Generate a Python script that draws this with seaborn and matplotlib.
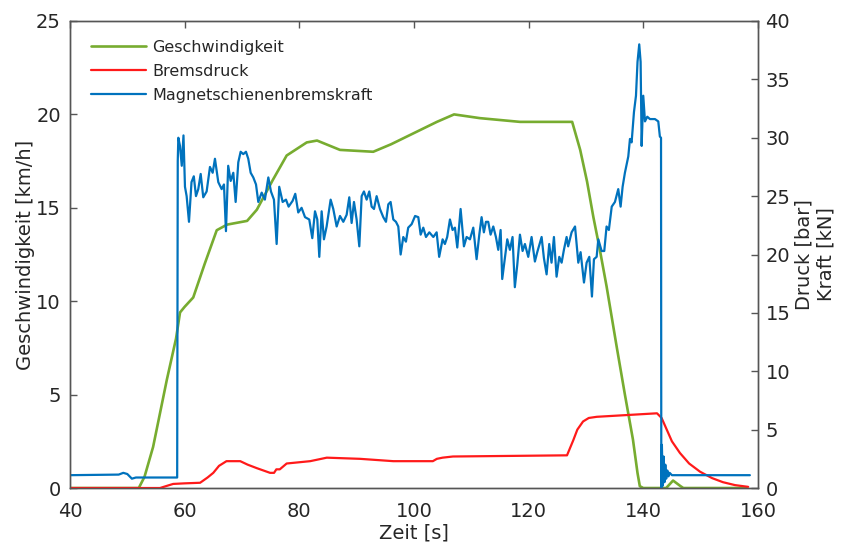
import matplotlib
matplotlib.use('Agg')
import matplotlib.pyplot as plt
import pandas as pd
import seaborn as sns

# Geschwindigkeit [km/h] (left axis)
speed_t = [40, 52, 53, 54.5, 56.9, 58.5, 59.2, 60, 61.5, 63.5, 65.6, 67.4, 70.9, 72.6,
           75.4, 77.8, 81.3, 83.1, 87.1, 92.9, 96, 100, 104, 107, 111.5, 118.5, 125.5,
           127.6, 129, 130.2, 131.3, 132.4, 133.6, 135.4, 136.8, 138.2, 139, 139.4, 140,
           144, 145.2, 146.5, 147, 158]
speed_v = [0, 0, 0.6, 2.2, 5.8, 8.0, 9.4, 9.7, 10.2, 12.0, 13.8, 14.1, 14.3, 14.9,
           16.5, 17.8, 18.5, 18.6, 18.1, 18.0, 18.4, 19.0, 19.6, 20.0, 19.8, 19.6, 19.6,
           19.6, 18.1, 16.4, 14.5, 12.8, 10.8, 7.5, 5.0, 2.6, 0.8, 0.1, 0,
           0, 0.4, 0.1, 0, 0]

# Bremsdruck [bar] (right axis)
brake_t = [40, 55.7, 57, 58, 60, 62.7, 64, 65, 66, 67.3, 69.7, 71, 72.6, 74.9, 75.6,
           76, 76.6, 77.8, 81.9, 84.8, 90.6, 96.4, 103.3, 104, 105, 106.8, 126.7, 127.8,
           128.5, 129.5, 130.5, 131.9, 142.4, 143.2, 144.1, 145, 146.4, 148, 149.9, 152,
           153.9, 156, 158.3]
brake_v = [0, 0, 0.2, 0.35, 0.4, 0.45, 0.9, 1.3, 1.9, 2.3, 2.3, 2.0, 1.7, 1.3, 1.3,
           1.6, 1.6, 2.1, 2.3, 2.6, 2.5, 2.3, 2.3, 2.5, 2.6, 2.7, 2.8, 4.1,
           5.0, 5.7, 6.0, 6.1, 6.4, 6.0, 5.0, 4.0, 3.0, 2.1, 1.4, 0.85,
           0.5, 0.25, 0.1]

# Magnetschienenbremskraft [kN] (right axis)
force_t = [40, 48.5, 49.3, 50, 50.8, 51.5, 58.7, 58.8, 58.9, 59.19, 59.5, 59.8, 60.06,
           60.35, 60.76, 61.2, 61.6, 61.98, 62.38, 62.8, 63.25, 63.84, 64.42, 64.89,
           65.29, 65.87, 66.46, 66.86, 67.21, 67.6, 68.03, 68.49, 68.9, 69.36, 69.77,
           70.23, 70.7, 71.1, 71.52, 71.98, 72.45, 72.85, 73.44, 74.0, 74.6, 75.06,
           75.58, 76.05, 76.5, 77.1, 77.68, 78.14, 78.84, 79.3, 79.82, 80.4, 81.0,
           81.74, 82.27, 82.74, 83.14, 83.49, 83.9, 84.3, 84.77, 85.47, 85.93, 86.52,
           87.1, 87.68, 88.26, 88.72, 89.13, 89.54, 90.0, 90.47, 90.88, 91.28, 91.75,
           92.21, 92.62, 93.03, 93.49, 94.07, 94.65, 95.12, 95.53, 95.93, 96.4, 96.86,
           97.27, 97.68, 98.14, 98.6, 99.0, 99.6, 100.2, 100.76, 101.17, 101.63, 102.1,
           102.68, 103.38, 103.96, 104.4, 105.0, 105.4, 105.8, 106.28, 106.74, 107.15,
           107.56, 108.14, 108.72, 109.19, 109.77, 110.35, 110.93, 111.4, 111.8, 112.2,
           112.56, 112.96, 113.37, 113.84, 114.3, 114.71, 115.12, 115.4, 115.87, 116.28,
           116.74, 117.2, 117.6, 118.02, 118.49, 118.95, 119.36, 119.94, 120.52, 121.1,
           121.51, 122.27, 122.67, 123.14, 123.6, 124.0, 124.42, 124.88, 125.35, 125.76,
           126.16, 126.63, 126.9, 127.5, 128.1, 128.67, 129.07, 129.66, 130.12, 130.59,
           131.05, 131.4, 131.87, 132.16, 132.74, 133.2, 133.6, 134.0, 134.5, 135.06,
           135.64, 136.05, 136.4, 136.8, 137.39, 137.68, 137.97, 138.38, 138.73, 139.0,
           139.3, 139.54, 139.72, 140.0, 140.3, 140.7, 141.17, 142.04, 142.62, 142.9,
           143.1, 143.15, 143.25, 143.4, 143.55, 143.7, 143.85, 144.0, 144.2, 144.4,
           144.6, 145, 158.6]
force_v = [1.1, 1.15, 1.3, 1.2, 0.8, 0.9, 0.9, 28.0, 30.0, 29.3, 27.6, 30.2, 25.8,
           25.0, 22.8, 26.2, 26.7, 25.0, 25.6, 26.9, 24.9, 25.4, 27.5, 27.0,
           28.2, 26.2, 25.6, 26.0, 22.0, 27.6, 26.3, 27.0, 24.5, 27.9, 28.8,
           28.6, 28.8, 28.2, 27.0, 26.6, 26.0, 24.5, 25.3, 24.7, 26.6, 25.4,
           24.7, 20.9, 25.8, 24.5, 24.7, 24.1, 24.6, 25.2, 23.6, 24.0, 23.2,
           23.0, 21.4, 23.7, 23.0, 19.8, 23.7, 21.3, 22.4, 24.7, 23.9, 22.4,
           23.3, 22.8, 23.4, 24.9, 22.7, 24.5, 23.0, 20.7, 25.0, 25.4, 24.7,
           25.4, 24.1, 23.9, 25.0, 23.9, 23.2, 22.8, 24.3, 24.5, 23.0, 22.8,
           22.4, 20.0, 21.5, 21.1, 22.3, 22.6, 23.3, 23.2, 21.7, 22.3, 21.5,
           21.9, 21.5, 21.9, 19.8, 21.3, 20.9, 21.5, 23.0, 22.1, 22.3,
           20.6, 23.9, 20.7, 21.5, 21.3, 22.3, 19.6, 21.7, 23.2, 21.9,
           22.8, 22.8, 21.7, 22.4, 21.5, 20.4, 22.1, 17.9, 19.7, 21.3,
           20.4, 21.5, 17.2, 19.1, 21.7, 20.3, 20.9, 19.8, 21.5, 19.4,
           20.2, 21.5, 19.7, 18.3, 20.9, 19.3, 21.5, 18.1, 19.8, 19.3,
           20.4, 21.5, 20.7, 21.9, 22.4, 19.3, 20.2, 17.6, 19.3, 19.8,
           16.4, 19.6, 19.8, 21.3, 20.3, 20.3, 22.4, 22.1, 24.1, 24.5,
           25.6, 24.1, 25.8, 27.0, 28.4, 29.9, 29.6, 32.2, 33.6, 36.5,
           38.0, 36.5, 29.3, 33.6, 31.4, 31.8, 31.6, 31.6, 31.4, 30.1,
           30.0, 0, 3.7, 0.2, 2.7, 0.5, 2.0, 0.8, 1.5, 1.0,
           1.3, 1.1, 1.1]

x_ticks = [40, 60, 80, 100, 120, 140, 160]
left_ticks = [0, 5, 10, 15, 20, 25]
right_ticks = [0, 5, 10, 15, 20, 25, 30, 35, 40]

green = '#77AC30'
red = '#FF1A1A'
blue = '#0072BD'
text_col = '#262626'

sns.set_style('white')
plt.rcParams['font.family'] = ['DejaVu Sans']
plt.rcParams['axes.edgecolor'] = '#555555'
plt.rcParams['axes.linewidth'] = 1.0

speed = pd.DataFrame({'t': speed_t, 'v': speed_v})
brake = pd.DataFrame({'t': brake_t, 'v': brake_v})
force = pd.DataFrame({'t': force_t, 'v': force_v})

fig = plt.figure(figsize=(8.41, 5.44), dpi=100)
ax = fig.add_axes([0.0832, 0.1029, 0.818, 0.8585])
ax2 = ax.twinx()

sns.lineplot(data=speed, x='t', y='v', ax=ax, color=green, linewidth=1.9,
             estimator=None, sort=False, label='Geschwindigkeit', legend=False)
sns.lineplot(data=brake, x='t', y='v', ax=ax2, color=red, linewidth=1.6,
             estimator=None, sort=False, label='Bremsdruck', legend=False)
sns.lineplot(data=force, x='t', y='v', ax=ax2, color=blue, linewidth=1.6,
             estimator=None, sort=False, label='Magnetschienenbremskraft', legend=False)

ax.set_xlim(40, 160)
ax.set_ylim(0, 25)
ax2.set_ylim(0, 40)
ax.set_xticks(x_ticks)
ax.set_yticks(left_ticks)
ax2.set_yticks(right_ticks)

ax.tick_params(axis='both', direction='in', length=5, width=1, colors='#555555',
               labelcolor=text_col, labelsize=14, top=True, right=False)
ax.tick_params(axis='x', pad=10)
ax.tick_params(axis='y', pad=6.5)
ax2.tick_params(axis='y', direction='in', length=5, width=1, colors='#555555',
                labelcolor=text_col, labelsize=14, pad=5.5)

ax.set_xlabel('Zeit [s]', fontsize=14, color=text_col, labelpad=2)
ax.set_ylabel('Geschwindigkeit [km/h]', fontsize=14, color=text_col, labelpad=1)
ax2.set_ylabel('Druck [bar]\nKraft [kN]', fontsize=14, color=text_col, labelpad=3)

for a in (ax, ax2):
    for s in a.spines.values():
        s.set_visible(True)
        s.set_color('#555555')

h1, l1 = ax.get_legend_handles_labels()
h2, l2 = ax2.get_legend_handles_labels()
leg = ax2.legend(h1 + h2, l1 + l2, loc='upper left', bbox_to_anchor=(0.01, 0.99),
                 frameon=False, fontsize=11.5, handlelength=3.4, labelspacing=0.55,
                 handletextpad=0.4)
for t in leg.get_texts():
    t.set_color(text_col)

fig.savefig('out.png', dpi=100)
